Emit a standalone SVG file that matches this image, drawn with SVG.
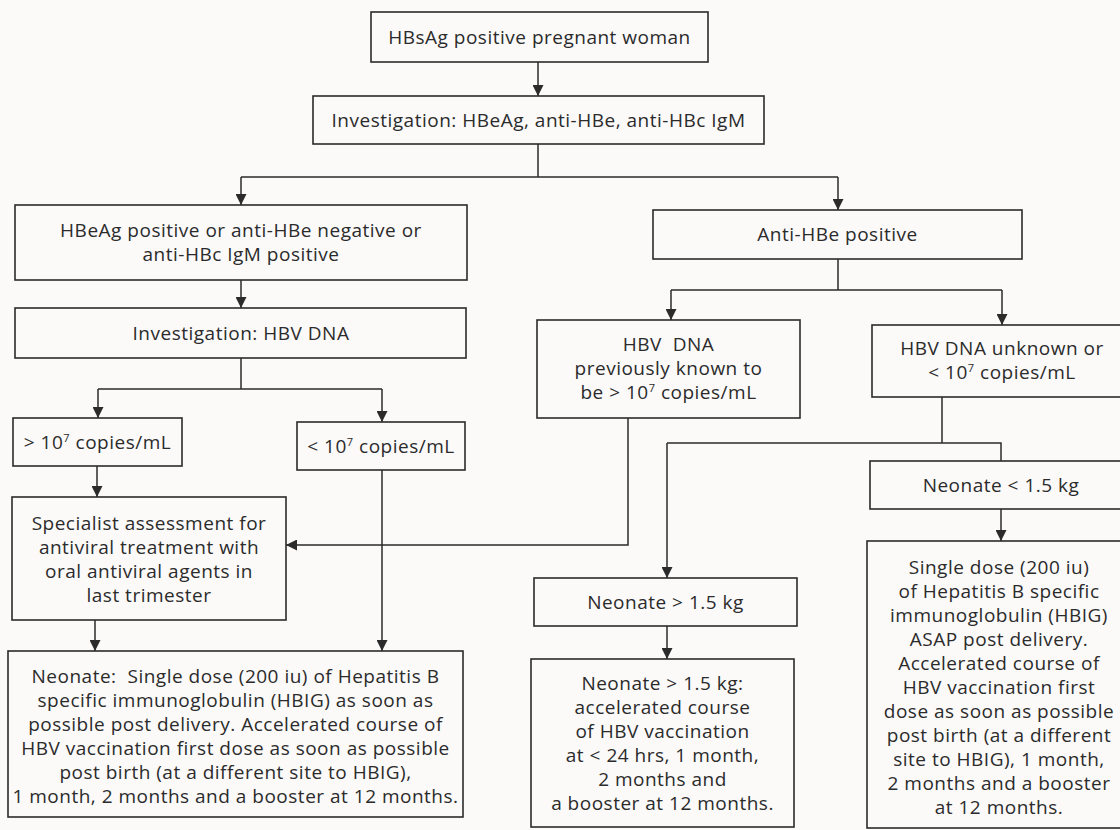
<svg xmlns="http://www.w3.org/2000/svg" width="1120" height="830" viewBox="0 0 1120 830">
<defs>
<marker id="ah" markerUnits="userSpaceOnUse" markerWidth="11" markerHeight="11" refX="11" refY="5.5" orient="auto">
<path d="M0,0 L11,5.5 L0,11 z" fill="#2b2b2b"/>
</marker>
<style>
.box{fill:none;stroke:#2b2b2b;stroke-width:1.6}
.t{font-family:"Open Sans","Noto Sans","Liberation Sans",sans-serif;font-size:19px;letter-spacing:0.5px;fill:#2b2b2b;text-anchor:middle}
.c{fill:none;stroke:#2b2b2b;stroke-width:1.5}
.a{marker-end:url(#ah)}
.sup{font-size:11px}
</style>
</defs>
<rect width="1120" height="830" fill="#fbfaf9"/>
<g id="connectors">
<path class="c a" d="M538,62 V96"/>
<path class="c" d="M538,144 V177 M241,177 H838"/>
<path class="c a" d="M241,177 V205"/>
<path class="c a" d="M838,177 V210"/>
<path class="c a" d="M241,280 V308"/>
<path class="c" d="M241,358 V389 M98,389 H382"/>
<path class="c a" d="M98,389 V418"/>
<path class="c a" d="M382,389 V422"/>
<path class="c a" d="M97,466 V497"/>
<path class="c a" d="M95,620 V651"/>
<path class="c a" d="M382,470 V651"/>
<path class="c" d="M838,259 V290 M671,290 H1002"/>
<path class="c a" d="M671,290 V320"/>
<path class="c a" d="M1002,290 V325"/>
<path class="c a" d="M628,418 V545 H286"/>
<path class="c" d="M942,397 V443 M667,443 H1001 V461"/>
<path class="c a" d="M667,443 V578"/>
<path class="c a" d="M1001,509 V541"/>
<path class="c a" d="M667,626 V659"/>
</g>
<g id="n1"><rect class="box" x="371" y="12" width="337" height="50"/><text class="t" x="539.5" y="44">HBsAg positive pregnant woman</text></g>
<g id="n2"><rect class="box" x="313" y="96" width="451" height="48"/><text class="t" x="538.5" y="127">Investigation: HBeAg, anti-HBe, anti-HBc IgM</text></g>
<g id="n3"><rect class="box" x="15" y="205" width="452" height="75"/><text class="t" x="241" y="237">HBeAg positive or anti-HBe negative or</text><text class="t" x="241" y="261">anti-HBc IgM positive</text></g>
<g id="n4"><rect class="box" x="15" y="308" width="451" height="50"/><text class="t" x="241" y="340">Investigation: HBV DNA</text></g>
<g id="n5"><rect class="box" x="13" y="418" width="169" height="48"/><text class="t" x="97.5" y="449">&gt; 10<tspan class="sup" dy="-7">7</tspan><tspan dy="7"> copies/mL</tspan></text></g>
<g id="n6"><rect class="box" x="297" y="422" width="168" height="48"/><text class="t" x="381" y="453">&lt; 10<tspan class="sup" dy="-7">7</tspan><tspan dy="7"> copies/mL</tspan></text></g>
<g id="n7"><rect class="box" x="12" y="497" width="274" height="123"/>
<text class="t" x="149" y="530">Specialist assessment for</text>
<text class="t" x="149" y="554">antiviral treatment with</text>
<text class="t" x="149" y="578">oral antiviral agents in</text>
<text class="t" x="149" y="602">last trimester</text></g>
<g id="n8"><rect class="box" x="8" y="651" width="455" height="166"/>
<text class="t" x="235.5" y="683">Neonate:&#160; Single dose (200 iu) of Hepatitis B</text>
<text class="t" x="235.5" y="707">specific immunoglobulin (HBIG) as soon as</text>
<text class="t" x="235.5" y="731">possible post delivery. Accelerated course of</text>
<text class="t" x="235.5" y="755">HBV vaccination first dose as soon as possible</text>
<text class="t" x="235.5" y="779">post birth (at a different site to HBIG),</text>
<text class="t" x="235.5" y="803">1 month, 2 months and a booster at 12 months.</text></g>
<g id="n9"><rect class="box" x="653" y="210" width="369" height="49"/><text class="t" x="837.5" y="241">Anti-HBe positive</text></g>
<g id="n10"><rect class="box" x="537" y="320" width="263" height="98"/>
<text class="t" x="668.5" y="351">HBV&#160; DNA</text>
<text class="t" x="668.5" y="375">previously known to</text>
<text class="t" x="668.5" y="399">be &gt; 10<tspan class="sup" dy="-7">7</tspan><tspan dy="7"> copies/mL</tspan></text></g>
<g id="n11"><rect class="box" x="872" y="325" width="253" height="72"/>
<text class="t" x="1002" y="355">HBV DNA unknown or</text>
<text class="t" x="1002" y="379">&lt; 10<tspan class="sup" dy="-7">7</tspan><tspan dy="7"> copies/mL</tspan></text></g>
<g id="n12"><rect class="box" x="870" y="461" width="255" height="48"/><text class="t" x="1001" y="492">Neonate &lt; 1.5 kg</text></g>
<g id="n13"><rect class="box" x="867" y="541" width="258" height="287"/>
<text class="t" x="999" y="574">Single dose (200 iu)</text>
<text class="t" x="999" y="598">of Hepatitis B specific</text>
<text class="t" x="999" y="622">immunoglobulin (HBIG)</text>
<text class="t" x="999" y="646">ASAP post delivery.</text>
<text class="t" x="999" y="670">Accelerated course of</text>
<text class="t" x="999" y="694">HBV vaccination first</text>
<text class="t" x="999" y="718">dose as soon as possible</text>
<text class="t" x="999" y="742">post birth (at a different</text>
<text class="t" x="999" y="766">site to HBIG), 1 month,</text>
<text class="t" x="999" y="790">2 months and a booster</text>
<text class="t" x="999" y="814">at 12 months.</text></g>
<g id="n14"><rect class="box" x="534" y="578" width="263" height="48"/><text class="t" x="665.5" y="609">Neonate &gt; 1.5 kg</text></g>
<g id="n15"><rect class="box" x="531" y="659" width="263" height="168"/>
<text class="t" x="662.5" y="690">Neonate &gt; 1.5 kg:</text>
<text class="t" x="662.5" y="714">accelerated course</text>
<text class="t" x="662.5" y="738">of HBV vaccination</text>
<text class="t" x="662.5" y="762">at &lt; 24 hrs, 1 month,</text>
<text class="t" x="662.5" y="786">2 months and</text>
<text class="t" x="662.5" y="810">a booster at 12 months.</text></g>
</svg>
